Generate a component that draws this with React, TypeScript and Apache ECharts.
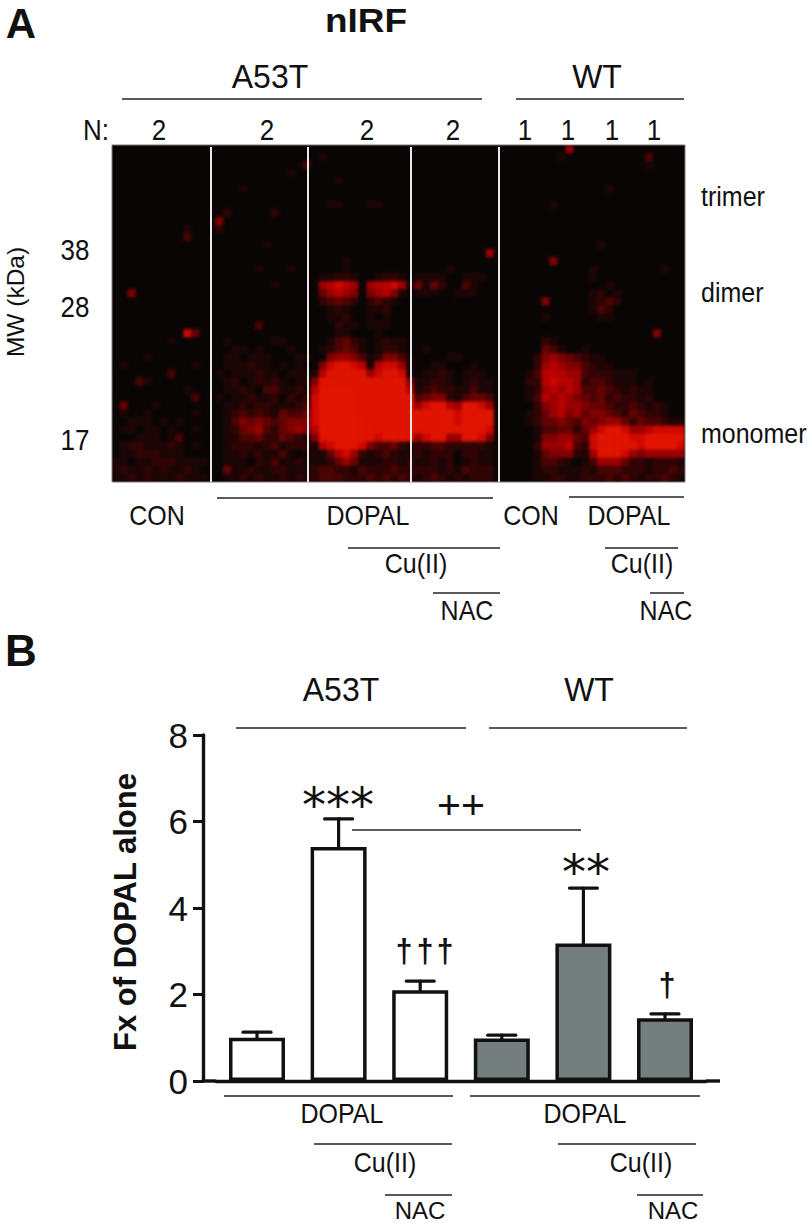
import React, { useEffect, useRef } from "react";
import * as echarts from "echarts";

// Panel B values
const barCategories = ["A53T DOPAL", "A53T DOPAL+Cu(II)", "A53T DOPAL+Cu(II)+NAC", "WT DOPAL", "WT DOPAL+Cu(II)", "WT DOPAL+Cu(II)+NAC"];
const barValues = [1.0, 5.41, 2.1, 0.98, 3.18, 1.45];
const errorTops = [1.13, 6.06, 2.31, 1.06, 4.46, 1.55];
const yTicks = [0, 2, 4, 6, 8];

// Panel A: blot signal, intensity 0-9 per cell (lanes split by spaces)
const blotRows = [
  "0000000000000 000000000000 0000000000000 0000000000 000000000600000000000000",
  "0000000000000 000000000000 0100000000000 0000000000 000000001000000000030000",
  "0000000000000 000000000003 0000000000000 0000000000 000000000000000000010000",
  "0000000000000 000000000100 0000000000000 0000000000 000000000000000000000000",
  "0000000000000 000000000000 0001000000000 0000000000 000000000000000000000000",
  "0000000000000 000100000000 0000000000000 0000000000 000000000000001000000000",
  "0000000000000 000000000000 0000000000000 0000000000 000000000000000000000000",
  "0000000000000 000000000000 0011000110000 0000000000 000000010000000000000000",
  "0000000000000 020000020000 0000000000000 0000000000 000000000000000000000000",
  "0000000000000 500000000000 0000000000000 0000000000 000000000000000000000000",
  "0000000001000 200000000000 0000000000000 0000000000 000000000000000000000000",
  "0000000003000 000000000000 0000000000000 0000000000 000000000000000000000000",
  "0000000000000 000000100000 0000000000000 0000000000 000000000000010000000000",
  "0000000000000 000000000000 0000000000000 0000000006 000000000000000000000000",
  "0000000000000 000000000000 0000100000000 0000000000 000000050000000000000000",
  "0000000000000 000001000100 0000100000000 0000100000 000000000000100000000100",
  "0000000000000 000000000000 0112210012210 1111001110 000000000000100000000000",
  "0000000000000 000000010000 0678760677861 4142003100 000000000000001000000000",
  "0050000000000 000000000000 0467650567510 1110011100 000000000000120100000000",
  "0000000000000 000000000000 0234320232100 0000000000 000000500000123200000000",
  "0000000000000 000000000000 0012100112000 0000000000 000000000000132000000000",
  "0000000000000 000000000000 0011200101000 0000000000 000000100000011000000000",
  "0000000000000 000003000000 0002110111000 0000000000 000000000000000000000000",
  "0000000008400 000000000000 0001100010000 0000000000 000000000000000000005000",
  "0000000100000 010000011000 0013421012110 0000000000 000000210000000000000000",
  "0000000000000 001101000100 0123431012210 0100000000 000000431001000000000000",
  "0000100000000 011011100011 0056653125531 0000110000 000002565432110000000000",
  "0100000000100 011121101010 0589987178861 0011000100 000002676553211000000000",
  "0000000300000 101112110111 1799999689981 0112101110 000013777663222111000000",
  "0003100000000 012012121011 5999999999995 1122101211 000022787762332111010000",
  "0000000001000 011210331121 7999999999997 1232211311 000012676763343212110000",
  "0000000000300 101121120212 8999999999999 3455213443 000013767654342322120000",
  "0400010000000 011212211123 8999999999999 6899769986 000002567665443223212100",
  "0100100000100 012323214334 8999999999999 9999989999 000012467564554324322100",
  "0011101010000 013545434555 8999999999999 9999989999 000012445435456642433211",
  "0110110100100 012456324565 7999999999999 9999999998 000001334424689986678888",
  "0001110130000 011334224321 5999999989999 6899669985 000001556643899998899999",
  "0122111210100 012221231222 1789998533421 2233222221 000002666732899999899998",
  "0112221110000 011212113101 1147862123211 2122202211 000001455521699986566666",
  "1101122211110 011102131121 1124641112212 1121201211 000001332101366642212221",
  "1211212112100 041121122111 2332213222322 2221213222 000001221112133322212232",
  "1121211121110 011212112121 2333222323232 1232121222 000001122112223232122321",
];
const blotColors = ["#0a0505", "#1c0505", "#300404", "#4a0303", "#650202", "#800101", "#9c0000", "#b80000", "#cf0800", "#e01400"];

const INK = "#111111";
const SANS = "'Liberation Sans', Arial, sans-serif";

type TOpt = { weight?: string; rot?: number; align?: string; family?: string; sx?: number; sy?: number };
const T = (text: string, x: number, y: number, size: number, o: TOpt = {}) => ({
  type: "text",
  x,
  y,
  rotation: o.rot ?? 0,
  scaleX: o.sx ?? 1,
  scaleY: o.sy ?? 1.1,
  silent: true,
  style: {
    text,
    fontSize: size,
    fontFamily: o.family ?? SANS,
    fontWeight: o.weight ?? "normal",
    fill: INK,
    align: o.align ?? "center",
    verticalAlign: "middle",
  },
});
const L = (x1: number, y1: number, x2: number, y2: number, w = 1.6, c = "#222222") => ({
  type: "line",
  silent: true,
  shape: { x1, y1, x2, y2 },
  style: { stroke: c, lineWidth: w },
});

const annotations = () => [
  T("A", 21, 23, 42, { weight: "bold", sy: 1 }),
  T("nIRF", 366, 20, 33, { weight: "bold", sx: 1.12, sy: 1 }),
  T("A53T", 270, 76, 32, { sy: 1.05 }),
  L(122, 99, 482, 99),
  T("WT", 597, 76, 32, { sy: 1.05 }),
  L(516, 99, 684, 99),
  T("N:", 96, 130, 26),
  ...[159, 267, 367, 453].map((x) => T("2", x, 130, 26)),
  ...[525, 568, 612, 654].map((x) => T("1", x, 130, 26)),
  T("38", 75, 250, 26),
  T("28", 75, 307, 26),
  T("17", 75, 440, 26),
  T("MW (kDa)", 15, 302, 24.5, { rot: Math.PI / 2, sy: 1 }),
  T("trimer", 701, 197, 25, { align: "left" }),
  T("dimer", 701, 293, 25, { align: "left" }),
  T("monomer", 701, 434, 25, { align: "left" }),
  // blot frame and lane separators
  { type: "rect", silent: true, shape: { x: 112, y: 145, width: 573, height: 337 }, style: { fill: "none", stroke: "#7a7a7a", lineWidth: 1 } },
  ...[211, 308, 411, 499].map((x) => L(x, 147, x, 482, 2, "#e8e8e8")),
  T("CON", 157, 516, 25),
  T("DOPAL", 368, 516, 25),
  T("CON", 531, 516, 25),
  T("DOPAL", 629, 516, 25),
  T("Cu(II)", 416, 564, 25),
  T("Cu(II)", 642, 564, 25),
  T("NAC", 467, 611, 25),
  T("NAC", 666, 611, 25),
  L(217, 498, 493, 498),
  L(569, 497, 684, 497),
  L(348, 548, 500, 548),
  L(605, 548, 678, 548),
  L(433, 593, 500, 593),
  L(650, 593, 684, 593),
  // Panel B
  T("B", 21, 650, 44, { weight: "bold", sy: 1 }),
  T("A53T", 341, 689, 32, { sy: 1.05 }),
  T("WT", 589, 689, 32, { sy: 1.05 }),
  L(236, 728, 466, 728),
  L(489, 728, 687, 728),
  T("***", 338, 805, 48, { family: "'DejaVu Sans'", sy: 1 }),
  T("**", 586, 872, 48, { family: "'DejaVu Sans'", sy: 1 }),
  ...[404, 425, 445].map((x) => T("†", x, 950, 30, { weight: "bold" })),
  T("†", 667, 984, 30, { weight: "bold" }),
  T("++", 461, 805, 41, { sy: 1 }),
  L(352, 830, 581, 830),
  L(203, 1081, 216.2, 1081, 3.4, INK),
  L(705.8, 1081, 720, 1081, 3.4, INK),
  L(224, 1096, 453, 1096),
  L(470, 1096, 700, 1096),
  T("DOPAL", 342, 1114, 25),
  T("DOPAL", 585, 1114, 25),
  L(314, 1144, 452, 1144),
  L(558, 1144, 696, 1144),
  T("Cu(II)", 385, 1163, 25),
  T("Cu(II)", 641, 1163, 25),
  L(385, 1195, 452, 1195),
  L(637, 1195, 703, 1195),
  T("NAC", 420, 1210, 24, { sy: 1 }),
  T("NAC", 673, 1210, 24, { sy: 1 }),
];

export default function App() {
  const blotRef = useRef<HTMLDivElement>(null);
  const mainRef = useRef<HTMLDivElement>(null);

  useEffect(() => {
    document.body.style.margin = "0";
    const blot = echarts.init(blotRef.current!, undefined, { renderer: "svg" });
    const cells: number[][] = [];
    blotRows.forEach((row, r) => {
      row.replace(/ /g, "").split("").forEach((d, c) => cells.push([c, r, Number(d)]));
    });
    const nCols = blotRows[0].replace(/ /g, "").length;
    blot.setOption({
      animation: false,
      backgroundColor: blotColors[0],
      grid: { left: 0, right: 0, top: 0, bottom: 0 },
      xAxis: { type: "category", show: false, data: Array.from({ length: nCols }, (_, i) => i) },
      yAxis: { type: "category", show: false, inverse: true, data: blotRows.map((_, i) => i) },
      visualMap: { show: false, type: "continuous", min: 0, max: 9, dimension: 2, seriesIndex: 0, inRange: { color: blotColors } },
      series: [{ type: "heatmap", data: cells, progressive: 0, silent: true }],
    });

    const chart = echarts.init(mainRef.current!, undefined, { renderer: "svg" });
    chart.setOption({
      animation: false,
      backgroundColor: "transparent",
      grid: { left: 216.2, top: 735, width: 489.6, height: 346 },
      xAxis: {
        type: "category",
        data: barCategories,
        axisTick: { show: false },
        axisLabel: { show: false },
        axisLine: { lineStyle: { color: INK, width: 3.4 } },
      },
      yAxis: {
        type: "value",
        min: 0,
        max: 8,
        interval: 2,
        offset: 13.2,
        name: "Fx of DOPAL alone",
        nameLocation: "middle",
        nameGap: 62,
        nameTextStyle: { fontFamily: SANS, fontWeight: "bold", fontSize: 31, color: INK, padding: [0, 8, 0, 0] },
        splitLine: { show: false },
        axisLine: { show: true, lineStyle: { color: INK, width: 3.4 } },
        axisTick: { show: true, length: 10, lineStyle: { color: INK, width: 3 } },
        axisLabel: {
          margin: 15,
          fontFamily: SANS,
          fontSize: 35,
          color: INK,
          formatter: (v: number) => (yTicks.includes(v) ? String(v) : ""),
        },
      },
      series: [
        {
          type: "bar",
          barWidth: 56,
          data: barValues.map((v, i) => ({
            value: v,
            itemStyle: { color: i < 3 ? "#ffffff" : "#747f7d", borderColor: INK, borderWidth: 3.5 },
          })),
        },
        {
          type: "custom",
          data: barValues.map((v, i) => [i, v, errorTops[i]]),
          renderItem: (_: unknown, api: any) => {
            const base = api.coord([api.value(0), api.value(1)]);
            const top = api.coord([api.value(0), api.value(2)]);
            const style = { stroke: INK, lineWidth: 3.2, lineCap: "round" };
            return {
              type: "group",
              children: [
                { type: "line", shape: { x1: top[0], y1: base[1], x2: top[0], y2: top[1] }, style },
                { type: "line", shape: { x1: top[0] - 14, y1: top[1], x2: top[0] + 14, y2: top[1] }, style },
              ],
            };
          },
        },
      ],
      graphic: annotations(),
    });
    return () => {
      chart.dispose();
      blot.dispose();
    };
  }, []);

  return (
    <div style={{ position: "absolute", left: 0, top: 0, width: 810, height: 1223, overflow: "hidden", background: "#ffffff" }}>
      <div style={{ position: "absolute", left: 112, top: 145, width: 573, height: 337, overflow: "hidden", background: blotColors[0] }}>
        <div ref={blotRef} style={{ width: 573, height: 337, filter: "blur(1.6px)" }} />
      </div>
      <div ref={mainRef} style={{ position: "absolute", left: 0, top: 0, width: 810, height: 1223 }} />
    </div>
  );
}
